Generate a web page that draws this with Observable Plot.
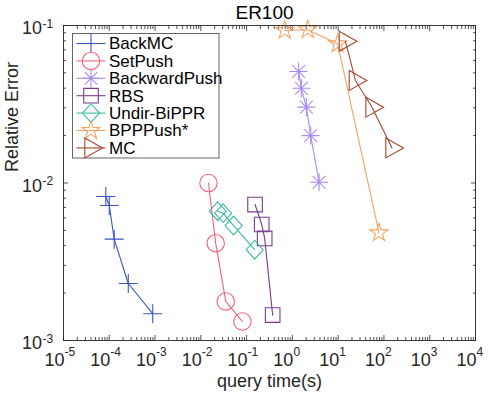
<!DOCTYPE html>
<html><head><meta charset="utf-8">
<script src="https://cdn.jsdelivr.net/npm/d3@7"></script>
<script src="https://cdn.jsdelivr.net/npm/@observablehq/plot@0.6"></script>
<style>
html,body{margin:0;padding:0;background:#fff;}
#chart svg{display:block;}
</style>
</head><body><div id="chart"></div>
<script>
// ---- data ----
const titleText = "ER100";
const xLabelText = "query time(s)";
const yLabelText = "Relative Error";
const seriesNames = ["BackMC", "SetPush", "BackwardPush", "RBS", "Undir-BiPPR", "BPPPush*", "MC"];
const seriesColors = ["#3a55c6", "#f2627b", "#a88cf4", "#7a3b8c", "#3bb8a2", "#f5a262", "#a2472c"];

const backMCTime = [8.4e-5, 1.0e-4, 1.28e-4, 2.6e-4, 8.9e-4];
const backMCErr  = [8.2e-3, 7.2e-3, 4.4e-3, 2.3e-3, 1.48e-3];
const setPushTime = [0.0147, 0.0211, 0.035, 0.081];
const setPushErr  = [1.0e-2, 4.15e-3, 1.77e-3, 1.32e-3];
const backwardPushTime = [1.37, 1.57, 2.02, 2.51, 3.83];
const backwardPushErr  = [0.051, 0.040, 0.0303, 0.020, 0.0101];
const rbsTime = [0.153, 0.214, 0.248, 0.371];
const rbsErr  = [7.3e-3, 5.45e-3, 4.45e-3, 1.45e-3];
const undirTime = [0.0234, 0.0307, 0.052, 0.150];
const undirErr  = [6.62e-3, 6.43e-3, 5.37e-3, 3.77e-3];
const bppTime = [0.68, 2.16, 9.75, 78];
const bppErr  = [0.093, 0.094, 0.0765, 4.83e-3];
const mcTime = [14.4, 23.8, 55, 150];
const mcErr  = [0.0795, 0.0448, 0.0303, 0.0167];

const xTickExponents = ["-5", "-4", "-3", "-2", "-1", "0", "1", "2", "3", "4"];
const yTickExponents = ["-3", "-2", "-1"];

// ---- marker shapes (MATLAB-like) ----
const rad = s => Math.sqrt(s / Math.PI);
const symPlus = {draw(c, s) { const r = rad(s); c.moveTo(-r, 0); c.lineTo(r, 0); c.moveTo(0, -r); c.lineTo(0, r); }};
const symCircle = {draw(c, s) { const r = rad(s); c.moveTo(r, 0); c.arc(0, 0, r, 0, 2 * Math.PI); c.closePath(); }};
const symAsterisk = {draw(c, s) { const r = rad(s), d = r * Math.SQRT1_2;
  c.moveTo(-r, 0); c.lineTo(r, 0); c.moveTo(0, -r); c.lineTo(0, r);
  c.moveTo(-d, -d); c.lineTo(d, d); c.moveTo(-d, d); c.lineTo(d, -d); }};
const symSquare = {draw(c, s) { const r = rad(s); c.moveTo(-r, -r); c.lineTo(r, -r); c.lineTo(r, r); c.lineTo(-r, r); c.closePath(); }};
const symDiamond = {draw(c, s) { const r = rad(s), h = r * 1.1; c.moveTo(0, -h); c.lineTo(r, 0); c.lineTo(0, h); c.lineTo(-r, 0); c.closePath(); }};
const symStar = {draw(c, s) { const R = rad(s), ri = R * 0.382;
  for (let i = 0; i < 10; i++) { const a = -Math.PI / 2 + i * Math.PI / 5, rr = i % 2 ? ri : R;
    const x = rr * Math.cos(a), y = rr * Math.sin(a); if (i) c.lineTo(x, y); else c.moveTo(x, y); }
  c.closePath(); }};
const symTriRight = {draw(c, s) { const r = rad(s); c.moveTo(-0.62 * r, -r); c.lineTo(1.15 * r, 0); c.lineTo(-0.62 * r, r); c.closePath(); }};

const seriesSymbols = [symPlus, symCircle, symAsterisk, symSquare, symDiamond, symStar, symTriRight];
const seriesRadius = [9.5, 8.7, 9, 7.3, 8.5, 9.5, 10];
const seriesTimes = [backMCTime, setPushTime, backwardPushTime, rbsTime, undirTime, bppTime, mcTime];
const seriesErrs = [backMCErr, setPushErr, backwardPushErr, rbsErr, undirErr, bppErr, mcErr];

const series = seriesNames.map((name, k) => ({
  name, color: seriesColors[k], symbol: seriesSymbols[k], r: seriesRadius[k],
  points: seriesTimes[k].map((t, i) => ({t, e: seriesErrs[k][i]}))
}));

const xDecades = xTickExponents.map(e => Math.pow(10, +e));
const yDecades = yTickExponents.map(e => Math.pow(10, +e));
const minorOf = decs => decs.slice(0, -1).flatMap(d => d3.range(2, 10).map(m => m * d));
const xMinor = minorOf(xDecades);
const yMinor = minorOf(yDecades);

const FONT = "'Liberation Sans', Arial, Helvetica, sans-serif";
const INK = "#262626";
const MAJ = 5, MIN = 3;

const marks = [];
// ticks (inward, all four sides)
marks.push(
  Plot.axisX(xDecades, {anchor: "bottom", tickSize: MAJ, dy: -MAJ, fill: null, stroke: INK, strokeWidth: 0.8}),
  Plot.axisX(xMinor, {anchor: "bottom", tickSize: MIN, dy: -MIN, fill: null, stroke: INK, strokeWidth: 0.8}),
  Plot.axisX(xDecades, {anchor: "top", tickSize: MAJ, dy: MAJ, fill: null, stroke: INK, strokeWidth: 0.8}),
  Plot.axisX(xMinor, {anchor: "top", tickSize: MIN, dy: MIN, fill: null, stroke: INK, strokeWidth: 0.8}),
  Plot.axisY(yDecades, {anchor: "left", tickSize: MAJ, dx: MAJ, fill: null, stroke: INK, strokeWidth: 0.8}),
  Plot.axisY(yMinor, {anchor: "left", tickSize: MIN, dx: MIN, fill: null, stroke: INK, strokeWidth: 0.8}),
  Plot.axisY(yDecades, {anchor: "right", tickSize: MAJ, dx: -MAJ, fill: null, stroke: INK, strokeWidth: 0.8}),
  Plot.axisY(yMinor, {anchor: "right", tickSize: MIN, dx: -MIN, fill: null, stroke: INK, strokeWidth: 0.8})
);
// tick labels: 10 with superscript exponent
marks.push(
  Plot.text(xDecades, {x: d => d, frameAnchor: "bottom", text: () => "10", textAnchor: "end", lineAnchor: "bottom", dx: 1, dy: 25, fontSize: 18, fill: INK}),
  Plot.text(xDecades, {x: d => d, frameAnchor: "bottom", text: (d, i) => xTickExponents[i], textAnchor: "start", lineAnchor: "bottom", dx: 1, dy: 15.5, fontSize: 12, fill: INK}),
  Plot.text(yDecades, {y: d => d, frameAnchor: "left", text: () => "10", textAnchor: "end", lineAnchor: "bottom", dx: -21.5, dy: 8.5, fontSize: 18, fill: INK}),
  Plot.text(yDecades, {y: d => d, frameAnchor: "left", text: (d, i) => yTickExponents[i], textAnchor: "start", lineAnchor: "bottom", dx: -21, dy: 2, fontSize: 12, fill: INK})
);
// title and axis labels
marks.push(
  Plot.text([titleText], {frameAnchor: "top", text: d => d, lineAnchor: "bottom", dy: -7, dx: -5, fontSize: 19, fill: "#000"}),
  Plot.text([xLabelText], {frameAnchor: "bottom", text: d => d, lineAnchor: "bottom", dy: 46, fontSize: 18, fill: INK}),
  Plot.text([yLabelText], {frameAnchor: "left", text: d => d, rotate: -90, lineAnchor: "bottom", dx: -46, dy: -11, fontSize: 18, fill: INK})
);
// series
for (const s of series) {
  marks.push(Plot.line(s.points, {x: "t", y: "e", stroke: s.color, strokeWidth: 1.1}));
  marks.push(Plot.dot(s.points, {x: "t", y: "e", stroke: s.color, fill: "none", symbol: s.symbol, r: s.r, strokeWidth: 1.1}));
}
marks.push(Plot.frame({stroke: INK, strokeWidth: 0.9}));

const chart = Plot.plot({
  width: 491, height: 393,
  marginLeft: 63, marginRight: 16, marginTop: 25, marginBottom: 53,
  style: {fontFamily: FONT, background: "#fff", overflow: "visible"},
  x: {type: "log", domain: [1e-5, 1e4], axis: null},
  y: {type: "log", domain: [1e-3, 1e-1], axis: null},
  marks
});
document.getElementById("chart").append(chart);

// legend (inside axes, upper-left, MATLAB style)
const svg = d3.select(chart);
const lg = svg.append("g").attr("class", "legend").attr("font-family", FONT).attr("font-size", 17)
  .attr("text-anchor", "start");
const box = {x: 72.5, y: 33.5, w: 146.5, h: 124.5};
lg.append("rect").attr("x", box.x).attr("y", box.y).attr("width", box.w).attr("height", box.h)
  .attr("fill", "#fff").attr("stroke", "#555").attr("stroke-width", 0.9);
series.forEach((s, i) => {
  const yy = 43.5 + i * 17.4;
  const row = lg.append("g").attr("transform", `translate(0,${yy})`);
  row.append("line").attr("x1", 76.5).attr("x2", 105.5).attr("y1", 0).attr("y2", 0)
    .attr("stroke", s.color).attr("stroke-width", 1.1);
  row.append("path").attr("transform", "translate(91,0)")
    .attr("d", d3.symbol().type(s.symbol).size(s.r * s.r * Math.PI)())
    .attr("fill", "none").attr("stroke", s.color).attr("stroke-width", 1.1);
  row.append("text").attr("x", 109).attr("y", 0).attr("dy", "0.35em").attr("text-anchor", "start")
    .attr("fill", "#000").text(s.name);
});
</script>
</body></html>
